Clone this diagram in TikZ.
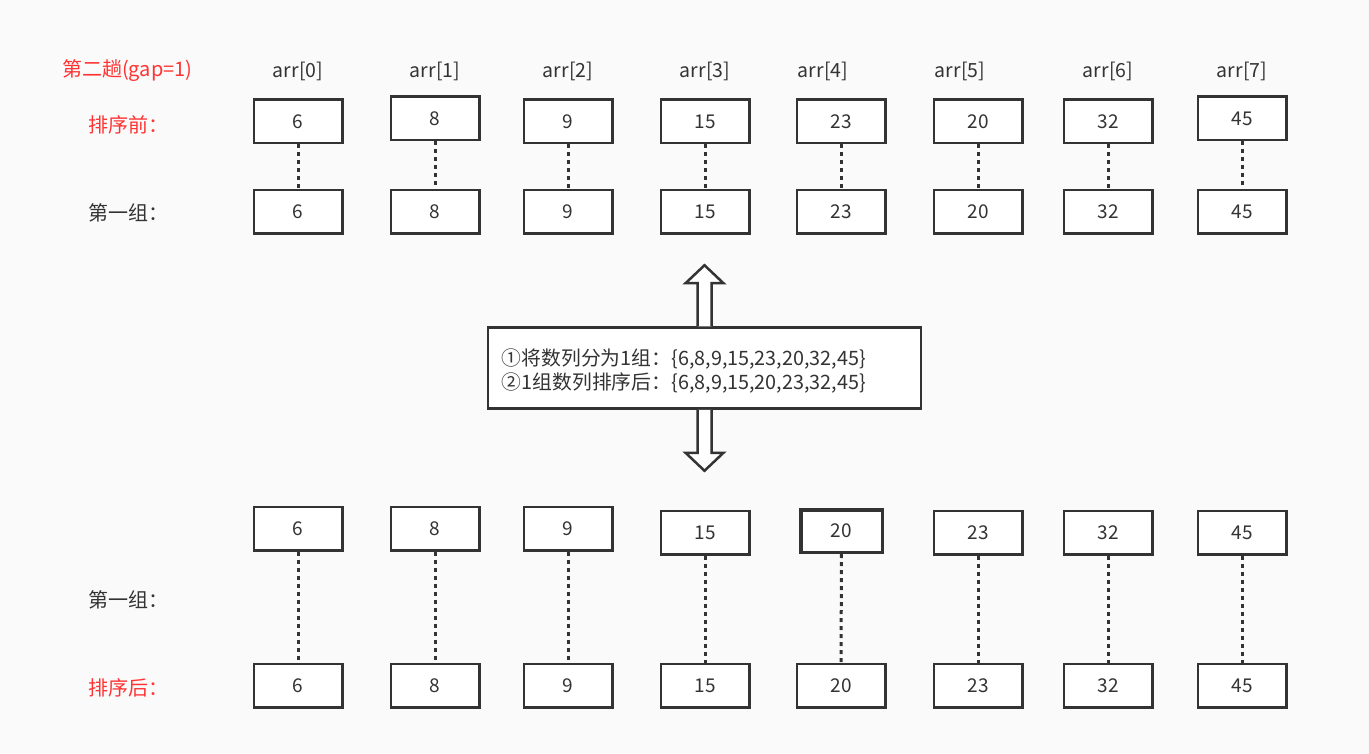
\documentclass[tikz,border=0pt]{standalone}
\usepackage{fontspec}
\setmainfont{Noto Sans CJK SC}
\usetikzlibrary{positioning,calc}
\definecolor{ink}{HTML}{333333}
\definecolor{hot}{HTML}{FF3333}
\definecolor{paper}{HTML}{FAFAFA}
\tikzset{
  cell/.style={draw=ink, line width=2.5pt, fill=white, minimum width=88.5pt,
    minimum height=43.5pt, inner sep=0pt, text=ink, font=\fontsize{19}{23}\selectfont},
  boldcell/.style={cell, line width=3.5pt, minimum width=81.5pt, minimum height=42.5pt},
  link/.style={draw=ink, line width=3pt, dash pattern=on 4pt off 4pt},
  caption/.style={anchor=west, inner sep=0pt, text=ink, font=\fontsize{20}{24}\selectfont},
  index/.style={inner sep=0pt, text=ink, font=\fontsize{19.5}{23}\selectfont},
  hollow/.style={draw=ink, line width=2.5pt, fill=white, line join=miter}
}
\begin{document}
\begin{tikzpicture}[x=1pt,y=-1pt]
  \fill[paper] (0,0) rectangle (1369,754);
  \useasboundingbox (0,0) rectangle (1369,754);
  % labels on the left
  \node[caption, text=hot] (title) at (62,71) {第二趟(gap=1)};
  \node[caption, text=hot] (before) at (88,125) {排序前：};
  \node[caption] (groupa) at (88,213) {第一组：};
  \node[caption] (groupb) at (88,600) {第一组：};
  \node[caption, text=hot] (after) at (88,688) {排序后：};
  % index row
  \node[index] (i0) at (298,71) {arr[0]};
  \node[index] (i1) at (435,71) {arr[1]};
  \node[index] (i2) at (568,71) {arr[2]};
  \node[index] (i3) at (705,71) {arr[3]};
  \node[index] (i4) at (823,71) {arr[4]};
  \node[index] (i5) at (960,71) {arr[5]};
  \node[index] (i6) at (1108,71) {arr[6]};
  \node[index] (i7) at (1242,71) {arr[7]};
  % before sorting
  \node[cell] (b0) at (298,121.5) {6};
  \node[cell] (b1) at (435,118.5) {8};
  \node[cell] (b2) at (568,121.5) {9};
  \node[cell] (b3) at (705,121.5) {15};
  \node[cell] (b4) at (841,121.5) {23};
  \node[cell] (b5) at (978,121.5) {20};
  \node[cell] (b6) at (1108,121.5) {32};
  \node[cell] (b7) at (1242,118.5) {45};
  % group one
  \foreach \n/\x/\v in {0/298/6,1/435/8,2/568/9,3/705/15,4/841/23,5/978/20,6/1108/32,7/1242/45}
    \node[cell] (g\n) at (\x,212) {\v};
  \foreach \n in {0,...,7}
    \draw[link] (b\n) -- (g\n);
  % explanation
  \node[draw=ink, line width=2.5pt, fill=white, minimum width=433pt, minimum height=81pt,
    inner sep=0pt] (info) at (704.5,368) {};
  \node[anchor=west, inner sep=0pt, text=ink, align=left,
    font=\fontsize{19.8}{24}\selectfont] (infotext) at ($(info.west)+(15,3)$)
    {①将数列分为1组：\{6,8,9,15,23,20,32,45\}\\②1组数列排序后：\{6,8,9,15,20,23,32,45\}};
  \draw[hollow] ($(info.north)+(-7,0)$) -- ++(0,-43) -- ++(-12,0) -- ($(info.north)+(0,-61)$)
    -- ($(info.north)+(19,-43)$) -- ++(-12,0) -- ($(info.north)+(7,0)$);
  \draw[hollow] ($(info.south)+(-7,0)$) -- ++(0,43) -- ++(-12,0) -- ($(info.south)+(0,61)$)
    -- ($(info.south)+(19,43)$) -- ++(-12,0) -- ($(info.south)+(7,0)$);
  % after sorting
  \node[cell] (s0) at (298,528.5) {6};
  \node[cell] (s1) at (435,528.5) {8};
  \node[cell] (s2) at (568,528.5) {9};
  \node[cell] (s3) at (705,532.5) {15};
  \node[boldcell] (s4) at (841.5,531) {20};
  \node[cell] (s5) at (978,532.5) {23};
  \node[cell] (s6) at (1108,532.5) {32};
  \node[cell] (s7) at (1242,532.5) {45};
  \foreach \n/\x/\v in {0/298/6,1/435/8,2/568/9,3/705/15,4/841/20,5/978/23,6/1108/32,7/1242/45}
    \node[cell] (r\n) at (\x,685.5) {\v};
  \foreach \n in {0,...,7}
    \draw[link] (s\n) -- (r\n);
\end{tikzpicture}
\end{document}
